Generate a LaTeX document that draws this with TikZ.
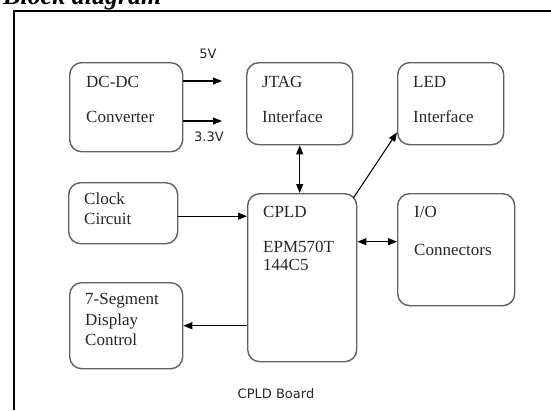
\documentclass[tikz,border=0pt]{standalone}
\usepackage{fontspec}
\setmainfont{Liberation Serif}
\newfontfamily\labfont{DejaVu Sans}
\usetikzlibrary{positioning, arrows.meta, calc}
\tikzset{
  blk/.style={draw=black!62, line width=1.4pt, rounded corners=12pt, inner sep=0pt, anchor=north west},
  txt/.style={anchor=west, inner sep=0pt, text=black!85, font=\fontsize{17}{20}\selectfont},
  lab/.style={inner sep=0pt, text=black!85, font=\labfont\fontsize{13}{15}\selectfont},
  arr/.style={-{Triangle[length=9pt,width=7pt]}, line width=1.1pt},
  darr/.style={{Triangle[length=9pt,width=7pt]}-{Triangle[length=9pt,width=7pt]}, line width=1.1pt}
}

\begin{document}
\begin{tikzpicture}[x=1pt, y=-1pt]
  \useasboundingbox (0,0) rectangle (551,410);
  \draw[line width=1.2pt] (14,410) -- (14,11) -- (551,11);
  \node[anchor=base west, inner sep=0pt, font=\bfseries\itshape\fontsize{26}{30}\selectfont] (title) at (3,4) {Block diagram};

  \node[blk, minimum width=113pt, minimum height=89pt] (dcdc) at (69,62) {};
  \node[blk, minimum width=106pt, minimum height=82pt] (jtag) at (246,62) {};
  \node[blk, minimum width=106pt, minimum height=82pt] (led) at (397,62) {};
  \node[blk, minimum width=109pt, minimum height=61pt] (clock) at (68,182) {};
  \node[blk, minimum width=109pt, minimum height=168pt] (cpld) at (247,193) {};
  \node[blk, minimum width=117pt, minimum height=112pt] (io) at (397,193) {};
  \node[blk, minimum width=113pt, minimum height=86pt] (seg) at (69,282) {};

  \node[txt] (dcdc1) at (86,82) {DC-DC};
  \node[txt] (dcdc2) at (86,117) {Converter};
  \node[txt] (jtag1) at (262,82) {JTAG};
  \node[txt] (jtag2) at (262,117) {Interface};
  \node[txt] (led1) at (413,82) {LED};
  \node[txt] (led2) at (413,117) {Interface};
  \node[txt] (clock1) at (84,199) {Clock};
  \node[txt] (clock2) at (84,219) {Circuit};
  \node[txt] (cpld1) at (263,212) {CPLD};
  \node[txt] (cpld2) at (263,247) {EPM570T};
  \node[txt] (cpld3) at (263,265) {144C5};
  \node[txt] (io1) at (414,212) {I/O};
  \node[txt] (io2) at (414,250) {Connectors};
  \node[txt] (seg1) at (85,301) {7-Segment};
  \node[txt] (seg2) at (85,321) {Display};
  \node[txt] (seg3) at (85,340) {Control};

  \node[lab] (v5lab) at (208,54) {5V};
  \node[lab] (v33lab) at (209,137) {3.3V};
  \node[lab] (board) at (276,394) {CPLD Board};

  \coordinate (v5) at (222,81);
  \coordinate (v33) at (222,121);
  \draw[arr] (dcdc.east |- v5) -- (v5);
  \draw[arr] (dcdc.east |- v33) -- (v33);
  \draw[darr] (jtag.south) -- (jtag.south |- cpld.north);
  \draw[arr] ($(cpld.north east)+(-4,5)$) -- ($(led.south west)+(0,-13)$);
  \draw[arr] ($(clock.east)+(0,3)$) -- ($(clock.east -| cpld.west)+(0,3)$);
  \draw[darr] ($(io.west -| cpld.east)+(0,-8)$) -- ($(io.west)+(0,-8)$);
  \draw[arr] (cpld.west |- seg.east) -- (seg.east);
\end{tikzpicture}
\end{document}
